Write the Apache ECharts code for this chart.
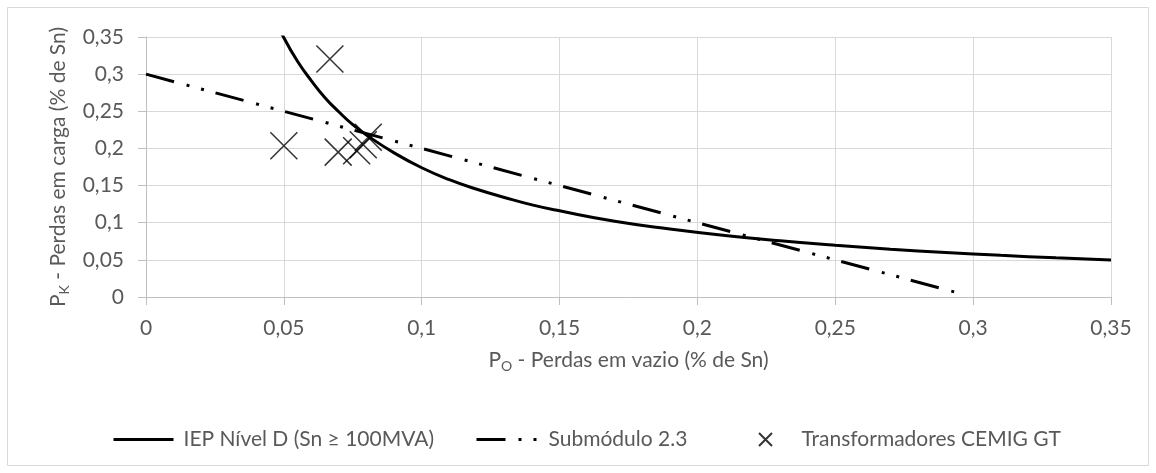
<!DOCTYPE html>
<html>
<head>
<meta charset="utf-8">
<script src="https://cdn.jsdelivr.net/npm/echarts@6/dist/echarts.min.js"></script>
<style>
  html, body { margin: 0; padding: 0; background: #fff; }
  #chart-container { width: 1156px; height: 473px; }
</style>
</head>
<body>
<div id="chart-container"></div>
<script>
// IEP Nivel D curve
var iepX = [0.045, 0.05, 0.055, 0.06, 0.065, 0.07, 0.075, 0.08, 0.09, 0.1, 0.11, 0.12, 0.13, 0.14, 0.15, 0.17, 0.19, 0.21, 0.23, 0.25, 0.27, 0.29, 0.31, 0.33, 0.35];
var iepY = [0.388, 0.349, 0.317, 0.291, 0.268, 0.249, 0.232, 0.218, 0.194, 0.174, 0.158, 0.145, 0.134, 0.124, 0.116, 0.102, 0.0916, 0.0829, 0.0757, 0.0696, 0.0644, 0.060, 0.0561, 0.0527, 0.0497];

// Submodulo 2.3 straight line
var subX = [0, 0.296];
var subY = [0.3, 0.004];

// Transformadores CEMIG GT
var trX = [0.050, 0.0667, 0.0697, 0.0764, 0.0788, 0.0806];
var trY = [0.2035, 0.3205, 0.195, 0.197, 0.205, 0.215];

var xTicks = { min: 0, max: 0.35, interval: 0.05 };
var yTicks = { min: 0, max: 0.35, interval: 0.05 };

function pairs(xs, ys) {
    return xs.map(function (x, i) { return [x, ys[i]]; });
}
function fmt(v) {
    return String(Math.round(v * 100) / 100).replace('.', ',');
}

var txt = '#595959';
var font = 'Lato';
var crossPath = 'path://M0,0L10,10M10,0L0,10';
var dashDotDot = [29, 13, 3, 12, 3, 12];

var myChart = echarts.init(document.getElementById('chart-container'));

option = {
    animation: false,
    backgroundColor: '#fff',
    textStyle: { fontFamily: font, color: txt },
    graphic: [{
        type: 'rect',
        shape: { x: 7.5, y: 7.5, width: 1141, height: 458 },
        style: { fill: 'none', stroke: '#d9d9d9', lineWidth: 1 },
        silent: true
    }],
    grid: { left: 146, right: 45, top: 37, bottom: 176 },
    legend: [
        {
            left: 107, top: 424, itemWidth: 60, itemHeight: 14,
            data: ['IEP Nível D (Sn ≥ 100MVA)'],
            itemStyle: { opacity: 0 },
            lineStyle: { color: '#000', width: 3, type: 'solid' },
            textStyle: { fontFamily: font, fontSize: 21, color: txt, padding: [0, 0, 0, 5] }
        },
        {
            left: 470, top: 424, itemWidth: 60, itemHeight: 14,
            data: ['Submódulo 2.3'],
            itemStyle: { opacity: 0 },
            lineStyle: { color: '#000', width: 3, type: dashDotDot, cap: 'butt' },
            textStyle: { fontFamily: font, fontSize: 21, color: txt, padding: [0, 0, 0, 7] }
        },
        {
            left: 753, top: 424, itemWidth: 60, itemHeight: 13,
            data: ['Transformadores CEMIG GT'],
            textStyle: { fontFamily: font, fontSize: 21, color: txt, padding: [0, 0, 0, 1] }
        }
    ],
    xAxis: {
        type: 'value',
        min: xTicks.min, max: xTicks.max, interval: xTicks.interval,
        name: '{a|P}{s|O}{a| - Perdas em vazio (% de Sn)}',
        nameLocation: 'middle',
        nameGap: 50,
        nameTextStyle: {
            rich: {
                a: { fontFamily: font, fontSize: 21, color: txt },
                s: { fontFamily: font, fontSize: 14, color: txt, padding: [12, 0, 0, 0] }
            }
        },
        axisLine: { show: true, onZero: false, lineStyle: { color: '#bfbfbf', width: 1 } },
        axisTick: { show: true, length: 8, lineStyle: { color: '#bfbfbf' } },
        axisLabel: { margin: 21, fontFamily: font, fontSize: 21, color: txt, formatter: fmt },
        splitLine: { show: true, lineStyle: { color: '#d9d9d9', width: 1 } }
    },
    yAxis: {
        type: 'value',
        min: yTicks.min, max: yTicks.max, interval: yTicks.interval,
        name: '{a|P}{s|K}{a| - Perdas em carga (% de Sn)}',
        nameLocation: 'middle',
        nameGap: 75,
        nameTextStyle: {
            rich: {
                a: { fontFamily: font, fontSize: 21, color: txt },
                s: { fontFamily: font, fontSize: 14, color: txt, padding: [12, 0, 0, 0] }
            }
        },
        axisLine: { show: true, onZero: false, lineStyle: { color: '#bfbfbf', width: 1 } },
        axisTick: { show: true, length: 8, lineStyle: { color: '#bfbfbf' } },
        axisLabel: { margin: 22, fontFamily: font, fontSize: 21, color: txt, formatter: fmt },
        splitLine: { show: true, lineStyle: { color: '#d9d9d9', width: 1 } }
    },
    series: [
        {
            name: 'IEP Nível D (Sn ≥ 100MVA)',
            type: 'line',
            smooth: true,
            showSymbol: false,
            symbol: 'none',
            clip: true,
            data: pairs(iepX, iepY),
            lineStyle: { color: '#000', width: 3 },
            itemStyle: { color: '#000' }
        },
        {
            name: 'Submódulo 2.3',
            type: 'line',
            showSymbol: false,
            symbol: 'none',
            data: pairs(subX, subY),
            lineStyle: { color: '#000', width: 3, type: dashDotDot, cap: 'butt' },
            itemStyle: { color: '#000' }
        },
        {
            name: 'Transformadores CEMIG GT',
            type: 'scatter',
            symbol: crossPath,
            symbolSize: 27,
            data: pairs(trX, trY),
            itemStyle: { color: 'rgba(0,0,0,0)', borderColor: '#000', borderWidth: 1.5 }
        }
    ]
};

myChart.setOption(option);
</script>
</body>
</html>
